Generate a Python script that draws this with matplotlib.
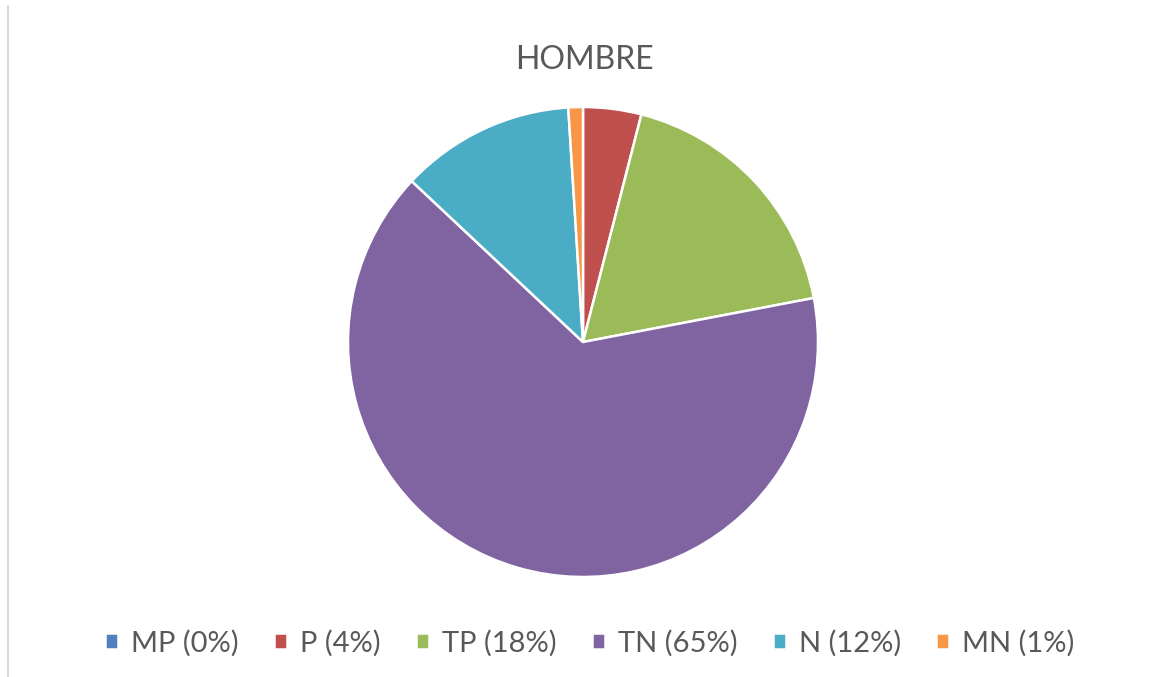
# Pie chart of HOMBRE responses.
import matplotlib
matplotlib.use('Agg')
import matplotlib.pyplot as plt
from matplotlib.lines import Line2D


# Chart data.
labels = ['MP (0%)', 'P (4%)', 'TP (18%)', 'TN (65%)', 'N (12%)', 'MN (1%)']
values = [0, 4, 18, 65, 12, 1]
colors = ['#4F81BD', '#C0504D', '#9BBB59', '#8064A2', '#4BACC6', '#F79646']
title = 'HOMBRE'

plt.rcParams['font.family'] = ['Lato', 'DejaVu Sans']
text_color = '#595959'

W, H = 1154, 677
fig = plt.figure(figsize=(W / 100, H / 100), dpi=100)
fig.patch.set_facecolor('white')

# Pie axes placed by pixel centre and radius.
cx, cy, r = 583, 342, 235
ax = fig.add_axes([(cx - r) / W, (H - cy - r) / H, 2 * r / W, 2 * r / H])
wedges, _ = ax.pie(
    values,
    colors=colors,
    startangle=90,
    counterclock=False,
    radius=1,
    wedgeprops=dict(edgecolor='white', linewidth=1.8))
ax.set_xlim(-1, 1)
ax.set_ylim(-1, 1)
ax.set_aspect('equal')
ax.axis('off')

fig.text(584 / W, 1 - 60 / H, title, ha='center', va='center',
         fontsize=23, color=text_color)

# Legend along the bottom.
leg = fig.legend(
    wedges, labels,
    loc='center',
    bbox_to_anchor=(590 / W, 1 - 643 / H),
    ncol=6,
    frameon=False,
    fontsize=21,
    handlelength=0.45,
    handleheight=0.45,
    handletextpad=0.45,
    columnspacing=1.2,
    labelcolor=text_color)

# Left border of the chart area.
fig.add_artist(Line2D([7.5 / W, 7.5 / W], [0, 1 - 6 / H],
                      transform=fig.transFigure, color='#D9D9D9', linewidth=1.5))

plt.savefig('out.png', dpi=100)
